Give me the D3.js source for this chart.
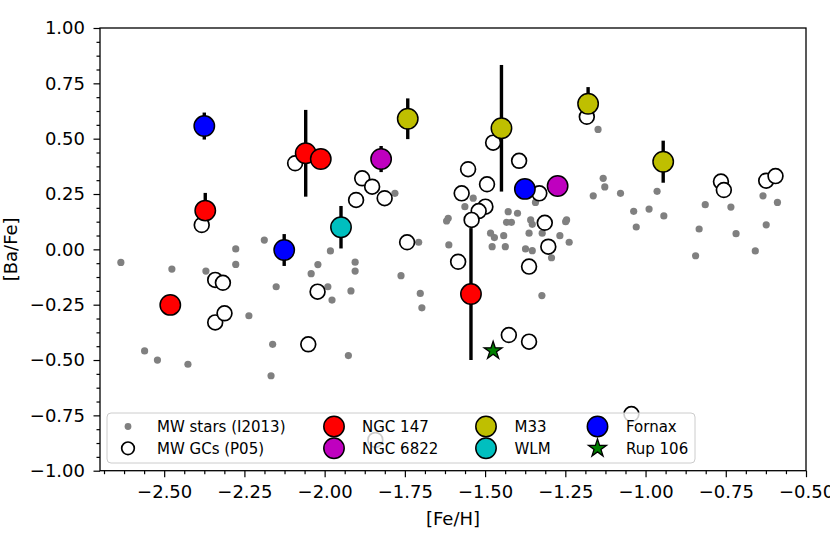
<!DOCTYPE html>
<html>
<head>
<meta charset="utf-8">
<script src="https://cdn.jsdelivr.net/npm/d3@7/dist/d3.min.js"></script>
<style>
  html, body { margin: 0; padding: 0; background: #fff; }
  svg { display: block; font-family: "DejaVu Sans", sans-serif; }
</style>
</head>
<body>
<svg id="chart" width="830" height="554"></svg>
<script>
// ---------- data ----------
const xTicks = [-2.50, -2.25, -2.00, -1.75, -1.50, -1.25, -1.00, -0.75, -0.50];
const yTicks = [-1.00, -0.75, -0.50, -0.25, 0.00, 0.25, 0.50, 0.75, 1.00];

// MW stars (I2013): [Fe/H], [Ba/Fe]
const mwStarsFeH = [-2.635,-2.476,-2.370,-2.277,-2.277,-2.188,-2.151,-2.236,-2.561,-2.521,-2.426,-2.162,-2.167,
  -1.982,-2.021,-2.042,-1.990,-1.977,-1.905,-1.905,-1.781,-1.762,-1.707,-1.620,-1.615,-1.613,-1.563,-1.537,
  -1.428,-1.399,-1.433,-1.418,-1.483,-1.471,-1.442,-1.478,-1.437,-1.374,-1.353,-1.363,-1.358,-1.353,-1.322,
  -1.343,-1.267,-1.246,-1.249,-1.238,-1.293,-1.702,-1.697,-1.918,-1.926,-1.323,-1.163,-1.148,-1.132,-1.127,
  -1.078,-1.037,-1.029,-0.989,-0.964,-0.943,-0.814,-0.833,-0.844,-0.734,-0.718,-0.634,-0.589,-0.624,-0.658];
const mwStarsBaFe = [-0.059,-0.089,-0.098,0.002,-0.068,0.042,-0.169,-0.300,-0.459,-0.500,-0.519,-0.429,-0.571,
  -0.007,-0.069,-0.110,-0.169,-0.229,-0.058,-0.098,0.253,-0.119,0.032,0.128,0.140,0.020,0.193,0.231,
  0.170,0.163,0.122,0.122,0.073,0.053,0.062,0.012,0.012,0.002,-0.006,0.073,0.133,0.113,0.073,
  0.212,0.062,0.133,0.125,0.032,-0.038,-0.199,-0.264,-0.188,-0.480,-0.209,0.242,0.542,0.321,0.282,
  0.253,0.172,0.101,0.182,0.262,0.151,0.202,0.092,-0.029,0.191,0.071,0.242,0.212,0.111,-0.007];

// MW GCs (P05)
const mwGCFeH = [-2.383,-2.341,-2.317,-2.341,-2.312,-2.092,-2.022,-2.051,-1.883,-1.852,-1.902,-1.813,-1.743,
  -1.553,-1.573,-1.494,-1.499,-1.520,-1.542,-1.584,-1.475,-1.394,-1.331,-1.314,-1.303,-1.363,-1.426,-1.363,
  -1.183,-0.765,-0.756,-0.624,-0.595,-1.044,-1.842];
const mwGCBaFe = [0.110,-0.138,-0.151,-0.330,-0.289,0.389,-0.191,-0.429,0.321,0.283,0.223,0.231,0.032,
  0.362,0.253,0.294,0.193,0.173,0.133,-0.056,0.482,0.400,0.253,0.120,0.012,-0.078,-0.387,-0.417,
  0.599,0.306,0.268,0.310,0.331,-0.744,-0.861];

// Extragalactic GCs
const ngc147FeH = [-2.481,-2.372,-2.059,-2.012,-1.544];
const ngc147BaFe = [-0.251,0.175,0.434,0.408,-0.202];
const ngc147Err = [0,0.080,0.196,0,0.298];

const ngc6822FeH = [-1.824,-1.274];
const ngc6822BaFe = [0.408,0.286];
const ngc6822Err = [0.059,0];

const m33FeH = [-1.741,-1.449,-1.179,-0.945];
const m33BaFe = [0.590,0.547,0.658,0.396];
const m33Err = [0.092,0.286,0.075,0.095];

const wlmFeH = [-1.949];
const wlmBaFe = [0.100];
const wlmErr = [0.096];

const fornaxFeH = [-2.375,-2.126,-1.376];
const fornaxBaFe = [0.557,-0.003,0.273];
const fornaxErr = [0.061,0.072,0];

const rup106FeH = [-1.475];
const rup106BaFe = [-0.458];

// ---------- layout ----------
const svg = d3.select("#chart");
const L = 100, R = 806, T = 28, B = 470.7;
const x = d3.scaleLinear().domain([-2.7, -0.5]).range([L, R]);
const y = d3.scaleLinear().domain([-1, 1]).range([B, T]);
const fmt = d3.format(".2f");

const zip = (a, b, c) => a.map((v, i) => ({ x: v, y: b[i], e: c ? c[i] : 0 }));

const groups = [
  { name: "NGC 147", color: "#ff0000", data: zip(ngc147FeH, ngc147BaFe, ngc147Err) },
  { name: "NGC 6822", color: "#bf00bf", data: zip(ngc6822FeH, ngc6822BaFe, ngc6822Err) },
  { name: "M33", color: "#bfbf00", data: zip(m33FeH, m33BaFe, m33Err) },
  { name: "WLM", color: "#00bfbf", data: zip(wlmFeH, wlmBaFe, wlmErr) },
  { name: "Fornax", color: "#0000ff", data: zip(fornaxFeH, fornaxBaFe, fornaxErr) }
];

const plot = svg.append("g");

// MW stars
plot.append("g").selectAll("circle").data(zip(mwStarsFeH, mwStarsBaFe)).join("circle")
  .attr("cx", d => x(d.x)).attr("cy", d => y(d.y)).attr("r", 3.6).attr("fill", "#808080");

// error bars
const allGal = groups.flatMap(g => g.data).filter(d => d.e > 0);
plot.append("g").selectAll("line").data(allGal).join("line")
  .attr("x1", d => x(d.x)).attr("x2", d => x(d.x))
  .attr("y1", d => y(d.y - d.e)).attr("y2", d => y(d.y + d.e))
  .attr("stroke", "#000").attr("stroke-width", 3.4);

// MW GCs
plot.append("g").selectAll("circle").data(zip(mwGCFeH, mwGCBaFe)).join("circle")
  .attr("cx", d => x(d.x)).attr("cy", d => y(d.y)).attr("r", 7.4)
  .attr("fill", "#fff").attr("stroke", "#000").attr("stroke-width", 1.7);

// galaxies
groups.forEach(g => {
  plot.append("g").selectAll("circle").data(g.data).join("circle")
    .attr("cx", d => x(d.x)).attr("cy", d => y(d.y)).attr("r", 10.2)
    .attr("fill", g.color).attr("stroke", "#000").attr("stroke-width", 1.5);
});

// Rup 106 star
const starPath = d3.symbol().type(d3.symbolStar).size(100)();
plot.append("g").selectAll("path").data(zip(rup106FeH, rup106BaFe)).join("path")
  .attr("d", starPath)
  .attr("transform", d => `translate(${x(d.x)},${y(d.y)})`)
  .attr("fill", "#008000").attr("stroke", "#000").attr("stroke-width", 1.3);

// ---------- axes ----------
const minorX = d3.range(-2.6875, -0.49, 0.0625).filter(v => !xTicks.some(t => Math.abs(t - v) < 1e-6));
const minorY = d3.range(-1, 1.0001, 0.0625).filter(v => !yTicks.some(t => Math.abs(t - v) < 1e-6));

const xAxis = svg.append("g").attr("transform", `translate(0,${B})`)
  .call(d3.axisBottom(x).tickValues(xTicks).tickFormat(fmt).tickSize(6.5).tickPadding(8.5));
const xMinor = svg.append("g").attr("transform", `translate(0,${B})`)
  .call(d3.axisBottom(x).tickValues(minorX).tickFormat("").tickSize(3.5));
const yAxis = svg.append("g").attr("transform", `translate(${L},0)`)
  .call(d3.axisLeft(y).tickValues(yTicks).tickFormat(fmt).tickSize(6.5).tickPadding(8.5));
const yMinor = svg.append("g").attr("transform", `translate(${L},0)`)
  .call(d3.axisLeft(y).tickValues(minorY).tickFormat("").tickSize(3.5));

[xAxis, xMinor, yAxis, yMinor].forEach(a => {
  a.select(".domain").remove();
  a.selectAll(".tick line").attr("stroke", "#000").attr("stroke-width", 1.2);
  a.selectAll(".tick text").attr("fill", "#000").style("font-size", "18px")
    .style("font-family", "'DejaVu Sans', sans-serif");
});

// frame
svg.append("rect").attr("x", L).attr("y", T).attr("width", R - L).attr("height", B - T)
  .attr("fill", "none").attr("stroke", "#000").attr("stroke-width", 1.3);

// axis labels
svg.append("text").attr("x", (L + R) / 2).attr("y", 525).attr("text-anchor", "middle")
  .style("font-size", "18px").text("[Fe/H]");
svg.append("text").attr("transform", `translate(17,${(T + B) / 2}) rotate(-90)`)
  .attr("text-anchor", "middle").style("font-size", "18px").text("[Ba/Fe]");

// ---------- legend ----------
const leg = svg.append("g");
leg.append("rect").attr("x", 107).attr("y", 413).attr("width", 588).attr("height", 50)
  .attr("rx", 4).attr("fill", "#fff").attr("fill-opacity", 0.8)
  .attr("stroke", "#cccccc").attr("stroke-width", 1);

const legendItems = [
  { name: "MW stars (I2013)", type: "dot", col: 0, row: 0 },
  { name: "MW GCs (P05)", type: "open", col: 0, row: 1 },
  { name: "NGC 147", type: "big", color: "#ff0000", col: 1, row: 0 },
  { name: "NGC 6822", type: "big", color: "#bf00bf", col: 1, row: 1 },
  { name: "M33", type: "big", color: "#bfbf00", col: 2, row: 0 },
  { name: "WLM", type: "big", color: "#00bfbf", col: 2, row: 1 },
  { name: "Fornax", type: "big", color: "#0000ff", col: 3, row: 0 },
  { name: "Rup 106", type: "star", col: 3, row: 1 }
];
const colMarker = [128, 334, 486, 597.5];
const colText = [157, 362, 514.5, 626];
const rowY = [426.5, 448.3];

legendItems.forEach(it => {
  const mx = colMarker[it.col], my = rowY[it.row];
  if (it.type === "dot") {
    leg.append("circle").attr("cx", mx).attr("cy", my).attr("r", 3.4).attr("fill", "#808080");
  } else if (it.type === "open") {
    leg.append("circle").attr("cx", mx).attr("cy", my).attr("r", 6.3)
      .attr("fill", "#fff").attr("stroke", "#000").attr("stroke-width", 1.7);
  } else if (it.type === "big") {
    leg.append("circle").attr("cx", mx).attr("cy", my).attr("r", 10.2)
      .attr("fill", it.color).attr("stroke", "#000").attr("stroke-width", 1.5);
  } else {
    leg.append("path").attr("d", starPath).attr("transform", `translate(${mx},${my})`)
      .attr("fill", "#008000").attr("stroke", "#000").attr("stroke-width", 1.3);
  }
  leg.append("text").attr("x", colText[it.col]).attr("y", my + 5.5)
    .style("font-size", "15px").attr("fill", "#000").text(it.name);
});
</script>
</body>
</html>
